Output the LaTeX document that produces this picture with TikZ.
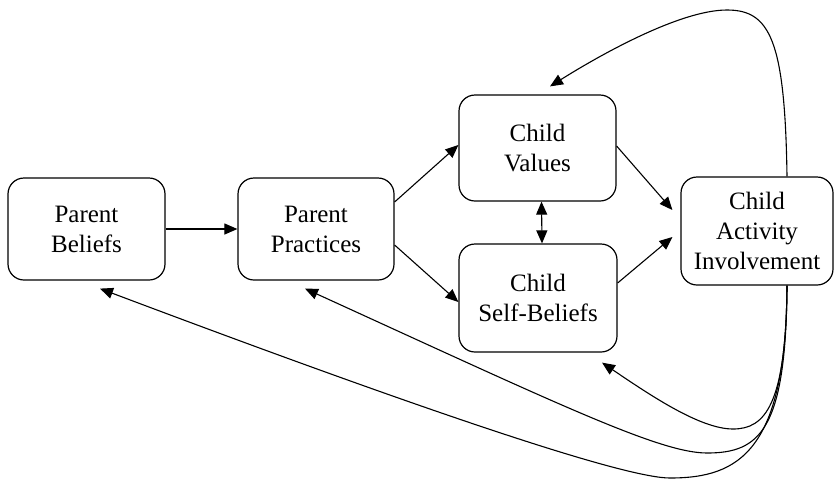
\documentclass[tikz,border=0pt]{standalone}
\usepackage{fontspec}
\setmainfont{Liberation Serif}
\usetikzlibrary{arrows.meta}

\tikzset{
  box/.style={draw, line width=1.2pt, rounded corners=16pt, align=center,
    inner sep=0pt, font=\fontsize{25}{30}\selectfont},
  link/.style={line width=1.1pt, -{Triangle[length=13pt,width=11pt]}},
  both/.style={line width=1.1pt, {Triangle[length=13pt,width=11pt]}-{Triangle[length=13pt,width=11pt]}},
}

\begin{document}
\begin{tikzpicture}[x=1pt, y=-1pt]
\useasboundingbox (0,0) rectangle (834,480);

% boxes
\node[box, minimum width=157pt, minimum height=102pt] (pb)  at (86.5,229) {Parent\\Beliefs};
\node[box, minimum width=156pt, minimum height=102pt] (pp)  at (316,229)  {Parent\\Practices};
\node[box, minimum width=157pt, minimum height=106pt] (cv)  at (537.5,148) {Child\\Values};
\node[box, minimum width=158pt, minimum height=108pt] (csb) at (538,298)  {Child\\Self-Beliefs};
\node[box, minimum width=152pt, minimum height=108pt] (cai) at (757,231)  {Child\\Activity\\Involvement};

% forward paths
\draw[link] (pb.east) -- (pp.west);
\draw[link] ([yshift=27pt]pp.east) -- ([yshift=3pt]cv.west);
\draw[link] ([yshift=-16pt]pp.east) -- ([yshift=-4pt]csb.west);
\draw[both] ([xshift=4pt]cv.south) -- ([xshift=4pt]csb.north);
\draw[link] ([yshift=2pt]cv.east) -- ([xshift=-8pt,yshift=21pt]cai.west);
\draw[link] ([yshift=15pt]csb.east) -- ([xshift=-8pt,yshift=-6pt]cai.west);

% feedback from involvement
\draw[link] ([xshift=30pt]cai.north)
  .. controls (785,40) and (770,10) .. (727,10)
  .. controls (680,10) and (600,55) .. ([xshift=12.5pt,yshift=8pt]cv.north);
\draw[link] ([xshift=30pt]cai.south)
  .. controls (786,405) and (765,429) .. (733,429)
  .. controls (700,429) and (650,395) .. ([xshift=64pt,yshift=-10pt]csb.south);
\draw[link] ([xshift=30pt]cai.south)
  .. controls (786,430) and (760,453) .. (707,453)
  .. controls (660,453) and (560,405) .. ([xshift=-11pt,yshift=-8pt]pp.south);
\draw[link] ([xshift=30pt]cai.south)
  .. controls (786,450) and (740,478) .. (670,478)
  .. controls (630,478) and (470,428) .. ([xshift=13.5pt,yshift=-8pt]pb.south);
\end{tikzpicture}
\end{document}
